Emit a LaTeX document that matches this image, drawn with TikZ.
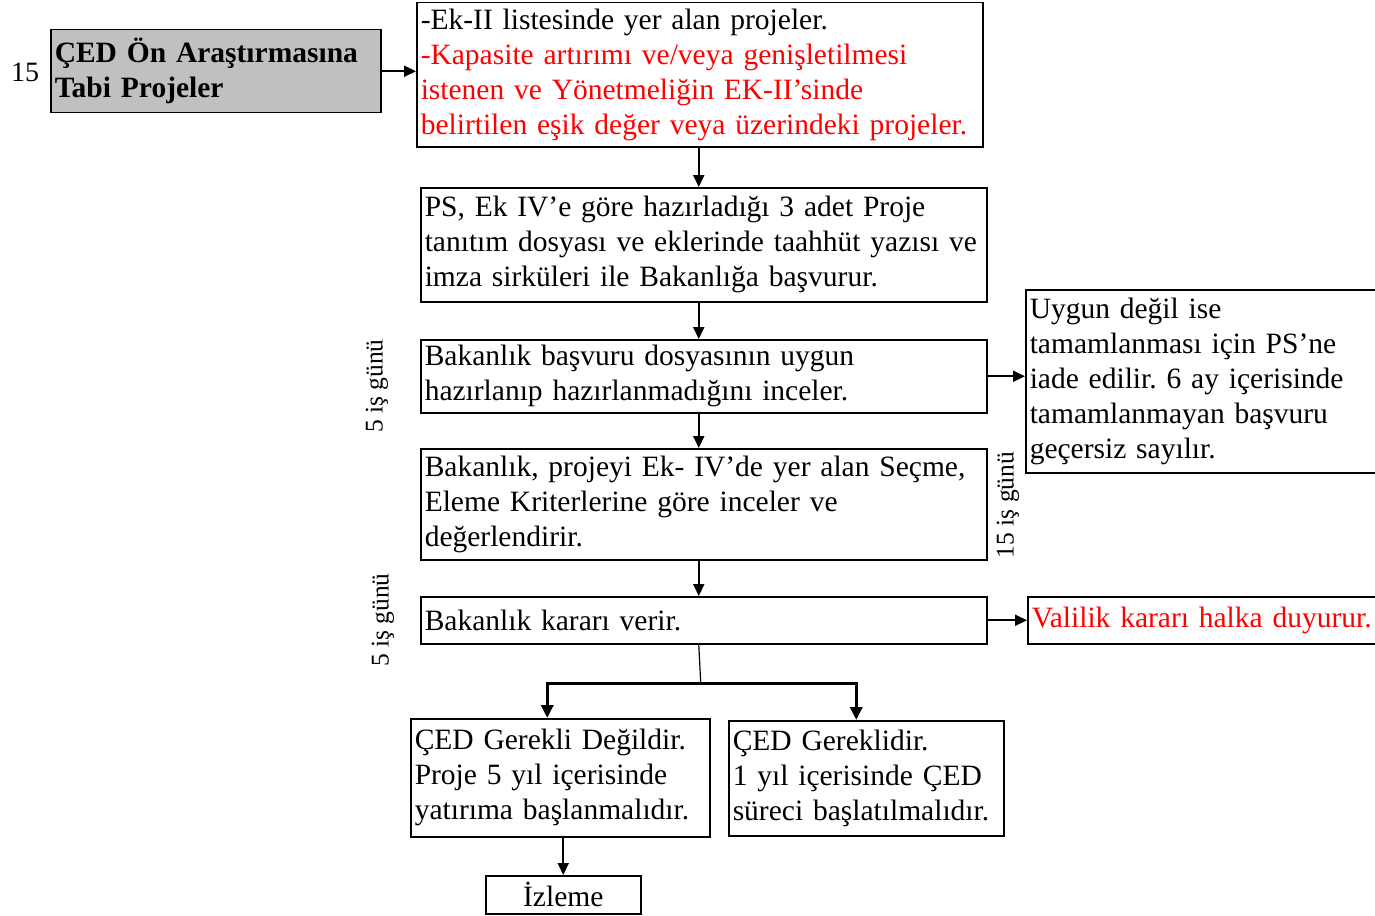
\documentclass[tikz,border=0pt]{standalone}
\usepackage{fontspec}
\setmainfont{Liberation Serif}
\usetikzlibrary{arrows.meta,calc}
\frenchspacing
\begin{document}
\begin{tikzpicture}[x=1pt,y=-1pt,
  box/.style={draw, line width=1.5pt, anchor=north west, inner xsep=4pt, inner ysep=0pt,
    align=left, font=\fontsize{29.5}{35}\selectfont},
  arr/.style={-{Triangle[length=12pt,width=11pt]}, line width=2pt},
  tarr/.style={-{Triangle[length=13pt,width=12pt]}, line width=3.5pt},
  lbl/.style={font=\fontsize{25.5}{28}\selectfont, inner sep=0pt}]
\clip (0,0) rectangle (1375,915);
\fill[white] (0,0) rectangle (1375,915);

\node[box, fill={rgb,255:red,192;green,192;blue,192}, font=\bfseries\fontsize{29.5}{35}\selectfont,
  text width=322pt, minimum height=83pt] (g) at (50,29)
  {ÇED Ön Araştırmasına\\Tabi Projeler};
\node[lbl, font=\fontsize{28}{30}\selectfont] (n15) at (25,72) {15};

\node[box, text width=558pt, minimum height=144pt] (a) at (416,2)
  {-Ek-II listesinde yer alan projeler.\\
   \textcolor{red}{-Kapasite artırımı ve/veya genişletilmesi}\\
   \textcolor{red}{istenen ve Yönetmeliğin EK-II’sinde}\\
   \textcolor{red}{belirtilen eşik değer veya üzerindeki projeler.}};

\node[box, text width=558pt, minimum height=114pt] (b) at (420,187)
  {PS, Ek IV’e göre hazırladığı 3 adet Proje\\
   tanıtım dosyası ve eklerinde taahhüt yazısı ve\\
   imza sirküleri ile Bakanlığa başvurur.};

\node[box, text width=558pt, minimum height=73pt] (c) at (420,339)
  {Bakanlık başvuru dosyasının uygun\\
   hazırlanıp hazırlanmadığını inceler.};

\node[box, text width=558pt, minimum height=111pt] (d) at (420,448)
  {Bakanlık, projeyi Ek- IV’de yer alan Seçme,\\
   Eleme Kriterlerine göre inceler ve\\
   değerlendirir.};

\node[box, text width=558pt, minimum height=47pt] (e) at (420,596)
  {Bakanlık kararı verir.};

\node[box, text width=372pt, minimum height=183pt] (f) at (1025,289)
  {Uygun değil ise\\
   tamamlanması için PS’ne\\
   iade edilir. 6 ay içerisinde\\
   tamamlanmayan başvuru\\
   geçersiz sayılır.};

\node[box, text width=372pt, minimum height=47pt, text=red] (v) at (1027,596)
  {Valilik kararı halka duyurur.};

\node[box, text width=291pt, minimum height=118pt] (h) at (410,718)
  {ÇED Gerekli Değildir.\\
   Proje 5 yıl içerisinde\\
   yatırıma başlanmalıdır.};

\node[box, text width=267pt, minimum height=115pt] (i) at (728,720)
  {ÇED Gereklidir.\\
   1 yıl içerisinde ÇED\\
   süreci başlatılmalıdır.};

\node[box, text width=147pt, minimum height=38pt, align=center] (j) at (485,875)
  {İzleme};

\node[lbl, rotate=90] (l1) at (377,386) {5 iş günü};
\node[lbl, rotate=90] (l2) at (383,620) {5 iş günü};
\node[lbl, rotate=90] (l3) at (1008,505) {15 iş günü};

\draw[arr] (g.east) -- (g.east -| a.west);
\draw[arr] ([xshift=-1pt]a.south) -- ([xshift=-1pt]a.south |- b.north);
\draw[arr] ([xshift=-5pt]b.south) -- ([xshift=-5pt]b.south |- c.north);
\draw[arr] ([xshift=-5pt]c.south) -- ([xshift=-5pt]c.south |- d.north);
\draw[arr] ([xshift=-5pt]d.south) -- ([xshift=-5pt]d.south |- e.north);
\draw[arr] (c.east) -- (c.east -| f.west);
\draw[arr] (e.east) -- (e.east -| v.west);

\coordinate (top) at ([xshift=-5pt]e.south);
\coordinate (split) at ($(top)+(2,39)$);
\draw[line width=1.2pt] (top) -- (split);
\draw[tarr] (split) -| ([xshift=-13pt]h.north);
\draw[tarr] (split) -| ([xshift=-10pt]i.north);
\draw[arr] (j.north |- h.south) -- (j.north);
\end{tikzpicture}
\end{document}
